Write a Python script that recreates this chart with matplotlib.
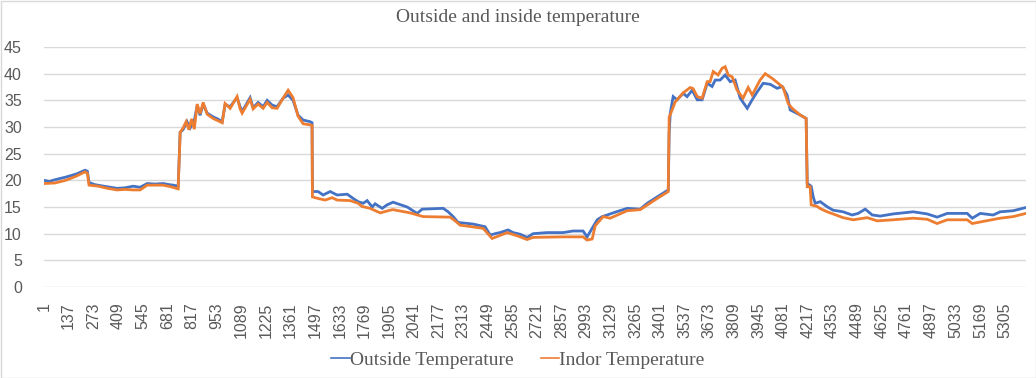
import matplotlib
matplotlib.use("Agg")
import matplotlib.pyplot as plt
from matplotlib.patches import Rectangle

# ---------------- data ----------------
outside_idx = [1, 30, 60, 120, 180, 227, 240, 249, 280, 330, 404, 448, 492, 531, 570, 614, 658, 690, 713, 741,
               752, 768, 790, 807, 830, 846, 862, 879, 901, 934, 960, 984, 1000, 1028, 1066, 1083, 1094, 1138,
               1155, 1182, 1210, 1232, 1260, 1287, 1320, 1348, 1375, 1403, 1431, 1469, 1480,
               1482, 1513, 1541, 1580, 1618, 1674, 1707, 1734, 1762, 1784, 1812, 1828, 1867, 1894, 1927, 2005,
               2060, 2088, 2204, 2231, 2259, 2286, 2369, 2435, 2463, 2502,
               2518, 2562, 2590, 2628, 2667, 2700, 2777, 2866, 2921, 2976, 2998, 3026, 3054, 3081, 3109, 3142,
               3219, 3291, 3330, 3385, 3446,
               3451, 3457, 3473, 3495, 3528, 3550, 3578, 3606, 3633, 3661, 3688, 3705, 3732, 3760, 3788, 3815,
               3843, 3882, 3909, 3937, 3970, 4009, 4047, 4075, 4102, 4119, 4174, 4207,
               4213, 4235, 4246, 4257, 4285, 4323, 4356, 4411, 4461, 4494, 4533, 4572, 4616, 4687, 4798, 4875,
               4930, 4986, 5096, 5124, 5168, 5239, 5278, 5350, 5420]
outside_temp = [20.0, 19.8, 20.1, 20.6, 21.2, 21.9, 21.7, 19.6, 19.2, 18.9, 18.5, 18.6, 18.9, 18.7, 19.4, 19.3, 19.4, 19.2, 19.1, 18.9,
                29.0, 29.5, 31.0, 29.8, 31.2, 34.0, 32.2, 34.3, 32.6, 31.9, 31.5, 31.0, 34.2, 33.8, 35.5, 33.8, 32.9, 35.5,
                33.6, 34.6, 33.8, 35.0, 34.1, 33.8, 35.4, 36.0, 35.0, 32.2, 31.3, 31.0, 30.8,
                17.9, 17.9, 17.25, 17.9, 17.25, 17.4, 16.6, 16.0, 15.7, 16.2, 15.0, 15.6, 14.75, 15.4, 15.9, 15.0,
                13.8, 14.6, 14.75, 14.1, 13.2, 12.1, 11.8, 11.3, 9.75, 10.1,
                10.2, 10.7, 10.2, 9.9, 9.3, 10.0, 10.2, 10.2, 10.5, 10.5, 9.4, 11.0, 12.6, 13.2, 13.5, 13.9,
                14.75, 14.6, 15.7, 16.9, 18.2,
                28.8, 32.6, 35.7, 35.1, 36.3, 35.7, 36.9, 35.1, 35.1, 38.2, 37.6, 38.8, 38.8, 39.75, 38.5, 38.8,
                35.4, 33.5, 35.1, 36.6, 38.2, 38.0, 37.25, 37.6, 36.0, 33.2, 32.25, 31.6,
                19.4, 18.9, 16.9, 15.7, 16.0, 15.05, 14.4, 14.1, 13.5, 13.8, 14.6, 13.5, 13.3, 13.7, 14.1, 13.7,
                13.1, 13.8, 13.8, 12.9, 13.8, 13.5, 14.1, 14.3, 14.9]

indoor_idx = [1, 60, 120, 180, 227, 240, 249, 300, 350, 404, 448, 492, 531, 570, 614, 658, 700, 741,
              752, 768, 785, 800, 815, 830, 846, 862, 879, 901, 934, 984, 1000, 1028, 1066, 1083, 1094, 1138,
              1155, 1182, 1210, 1232, 1260, 1287, 1320, 1348, 1375, 1403, 1431, 1469, 1480,
              1482, 1513, 1552, 1591, 1618, 1690, 1734, 1756, 1800, 1856, 1911, 1927, 2021, 2093, 2242, 2270,
              2297, 2424, 2474,
              2557, 2612, 2667, 2700, 2866, 2976, 2998, 3026, 3043, 3087, 3125, 3219, 3291, 3385, 3446,
              3451, 3457, 3484, 3528, 3567, 3583, 3606, 3633, 3661, 3677, 3694, 3721, 3743, 3760, 3777, 3799,
              3826, 3859, 3887, 3909, 3953, 3981, 4020, 4053, 4080, 4108, 4130, 4174, 4207,
              4213, 4229, 4235, 4268, 4285, 4323, 4356, 4411, 4467, 4544, 4599, 4687, 4798, 4875, 4930, 4986,
              5096, 5124, 5184, 5278, 5350, 5420]
indoor_temp = [19.4, 19.5, 20.0, 20.8, 21.6, 21.3, 19.1, 18.9, 18.5, 18.2, 18.3, 18.2, 18.2, 19.1, 19.1, 19.1, 18.8, 18.4,
               29.0, 29.8, 31.0, 29.5, 31.5, 29.6, 34.3, 32.5, 34.6, 32.4, 31.6, 30.8, 34.4, 33.5, 35.7, 33.4, 32.6, 35.2,
               33.4, 34.3, 33.5, 34.6, 33.6, 33.5, 35.4, 36.9, 35.5, 32.0, 30.6, 30.4, 30.3,
               16.9, 16.6, 16.3, 16.75, 16.3, 16.2, 15.7, 15.1, 14.75, 13.9, 14.4, 14.5, 13.9, 13.2, 13.1, 12.4,
               11.6, 11.0, 9.1,
               10.2, 9.6, 8.9, 9.3, 9.4, 9.4, 8.8, 9.0, 11.5, 13.2, 12.9, 14.3, 14.5, 16.6, 17.9,
               31.9, 32.3, 34.7, 36.4, 37.4, 37.2, 35.7, 35.4, 38.5, 38.5, 40.4, 39.75, 41.0, 41.3, 39.75, 39.4,
               36.9, 35.4, 37.4, 36.0, 38.8, 40.0, 39.1, 38.2, 37.4, 34.4, 33.5, 32.25, 31.6,
               18.8, 18.8, 15.4, 15.1, 14.7, 14.1, 13.7, 13.0, 12.6, 13.0, 12.4, 12.6, 12.9, 12.7, 11.9, 12.6,
               12.6, 11.9, 12.3, 12.9, 13.2, 13.8]

n_categories = 5420
tick_values = list(range(1, 5306, 136))
y_ticks = [0, 5, 10, 15, 20, 25, 30, 35, 40, 45]

title = "Outside and inside temperature"
series_names = ["Outside Temperature", "Indor Temperature"]

# ---------------- drawing ----------------
BLUE = "#4472C4"
ORANGE = "#ED7D31"
TEXT = "#595959"
GRID = "#D9D9D9"

fig = plt.figure(figsize=(10.36, 3.78), dpi=100)
ax = fig.add_axes([44 / 1036, 1 - 287 / 378, 982 / 1036, 240 / 378])

ax.plot(outside_idx, outside_temp, color=BLUE, lw=2.0, label=series_names[0], solid_joinstyle="miter")
ax.plot(indoor_idx, indoor_temp, color=ORANGE, lw=2.0, label=series_names[1], solid_joinstyle="miter")

ax.set_xlim(0.5, n_categories + 0.5)
ax.set_ylim(0, 45)
ax.set_yticks(y_ticks)
ax.set_xticks(tick_values)
ax.set_xticklabels([str(v) for v in tick_values], rotation=90)
ax.grid(axis="y", color=GRID, lw=1.0)
ax.set_axisbelow(True)
for s in ax.spines.values():
    s.set_visible(False)
ax.tick_params(axis="both", length=0, colors=TEXT, labelsize=11.5)
ax.tick_params(axis="x", pad=11)
ax.tick_params(axis="y", pad=16)
for lbl in ax.get_xticklabels() + ax.get_yticklabels():
    lbl.set_fontfamily("Liberation Sans")

fig.text(0.5, 1 - 18 / 378, title, ha="center", va="center", fontsize=14,
         color=TEXT, family="Liberation Serif")

leg = fig.legend(loc="center", bbox_to_anchor=(0.5, 1 - 360 / 378), ncol=2, frameon=False,
                 handlelength=0.95, handletextpad=0.0, columnspacing=1.4,
                 prop={"family": "Liberation Serif", "size": 14})
for t in leg.get_texts():
    t.set_color(TEXT)
for h in leg.get_lines():
    h.set_linewidth(1.2)

fig.patches.append(Rectangle((0.5 / 1036, 0.5 / 378), 1 - 1 / 1036, 1 - 1 / 378, transform=fig.transFigure,
                             fill=False, edgecolor=GRID, lw=1.0))

fig.savefig("out.png", dpi=100)
